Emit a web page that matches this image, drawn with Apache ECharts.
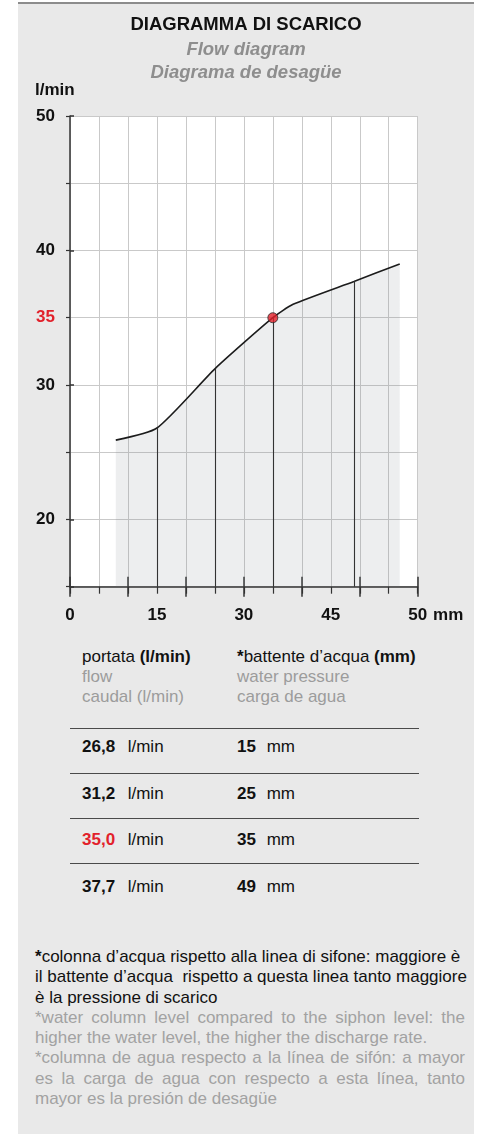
<!DOCTYPE html>
<html>
<head>
<meta charset="utf-8">
<script src="https://cdn.jsdelivr.net/npm/echarts@6/dist/echarts.min.js"></script>
<style>
  html, body { margin: 0; padding: 0; background: #fff; }
  body { width: 477px; height: 1136px; position: relative; overflow: hidden;
         font-family: 'Liberation Sans', Arial, Helvetica, sans-serif; }
  #panel { position: absolute; left: 18px; top: 2px; width: 456px; height: 1132px;
           background: #e9e9e9; border-top: 2px solid #8c8c8c; box-sizing: border-box; }
  #chart { position: absolute; left: 0; top: 0; width: 477px; height: 640px; }
  .t { position: absolute; font-size: 17px; line-height: 20px; white-space: pre; color: #111; }
  .g { color: #9c9c9c; }
  .red { color: #e2212b; }
  .rule { position: absolute; left: 70px; width: 349px; height: 0; border-top: 1px solid #4a4a4a; }
  #notes { position: absolute; left: 35px; top: 947px; width: 430px; font-size: 17px; line-height: 20.3px; color: #111; }
  #notes div { white-space: pre; }
  #notes .j { white-space: normal; text-align: justify; text-align-last: justify; }
  #notes .g { color: #a2a2a2; }
</style>
</head>
<body>
<div id="panel"></div>
<div id="chart"></div>
<div id="table"></div>
<div id="notes">
  <div><b>*</b>colonna d’acqua rispetto alla linea di sifone: maggiore è</div>
  <div>il battente d’acqua  rispetto a questa linea tanto maggiore</div>
  <div>è la pressione di scarico</div>
  <div class="g j">*water column level compared to the siphon level: the</div>
  <div class="g">higher the water level, the higher the discharge rate.</div>
  <div class="g j">*columna de agua respecto a la línea de sifón: a mayor</div>
  <div class="g j">es la carga de agua con respecto a esta línea, tanto</div>
  <div class="g">mayor es la presión de desagüe</div>
</div>
<script>
// Tabulated operating points: water level (mm) -> discharge flow (l/min)
const levelMm = [15, 25, 35, 49];
const flowLpm = [26.8, 31.2, 35.0, 37.7];
const highlightRow = 2;

// Additional points tracing the flow curve between and beyond the tabulated ones
const curveExtraMm = [7.9, 38.5, 56.9];
const curveExtraLpm = [25.9, 36.0, 39.0];

// Axis ticks and labels
const xTickValues = [0, 15, 30, 45, 60];
const xTickLabels = ['0', '15', '30', '45', '50'];
const xMajorTicks = [0, 10, 20, 30, 40, 50, 60];
const yTickValues = [20, 30, 35, 40, 50];
const yMajorTicks = [15, 20, 30, 40, 50];

const FONT = "'Liberation Sans', Arial, Helvetica, sans-serif";
const RED = '#e2212b';
const INK = '#111';
const AXIS = '#333';
const GRID = '#c9c9c9';

const curve = levelMm.map((x, i) => [x, flowLpm[i]])
  .concat(curveExtraMm.map((x, i) => [x, curveExtraLpm[i]]))
  .sort((a, b) => a[0] - b[0]);

const yMin = 15, yMax = 50;
const fmt = v => v.toFixed(1).replace('.', ',');
const boldLabel = { fontSize: 17, fontWeight: 700, fontFamily: FONT, color: INK };

const chart = echarts.init(document.getElementById('chart'), null, { renderer: 'canvas' });

// Helper axes that only contribute the longer tick marks at major values
const tickAxis = (base, tick) => Object.assign({}, base, {
  axisLine: { show: true, lineStyle: { color: 'rgba(0,0,0,0)', width: 0 } },
  axisLabel: { show: false }, splitLine: { show: false },
  axisTick: Object.assign({ show: true, lineStyle: { color: AXIS, width: 1.5 } }, tick)
});
const xBase = { type: 'value', min: 0, max: 60, interval: 5, position: 'bottom', offset: 0 };
const yBase = { type: 'value', min: yMin, max: yMax, interval: 5, position: 'left', offset: 0 };

chart.setOption({
  animation: false,
  backgroundColor: 'transparent',
  textStyle: { fontFamily: FONT },
  graphic: [
    { type: 'text', x: 246, y: 15.5, style: { text: 'DIAGRAMMA DI SCARICO', align: 'center', font: `bold 18.5px ${FONT}`, fill: INK } },
    { type: 'text', x: 246, y: 40.5, style: { text: 'Flow diagram', align: 'center', font: `italic bold 18.5px ${FONT}`, fill: '#8e8e8e' } },
    { type: 'text', x: 246, y: 63.5, style: { text: 'Diagrama de desagüe', align: 'center', font: `italic bold 18.5px ${FONT}`, fill: '#8e8e8e' } },
    { type: 'text', x: 35, y: 82, style: { text: 'l/min', font: `bold 17px ${FONT}`, fill: INK } }
  ],
  grid: { left: 70, top: 116, width: 347.7, height: 470.7, show: true, backgroundColor: '#fff', borderWidth: 0 },
  xAxis: [
    Object.assign({}, xBase, {
      name: 'mm', nameLocation: 'end', nameGap: 13,
      nameTextStyle: Object.assign({ verticalAlign: 'top', padding: [20, 0, 0, 0] }, boldLabel),
      axisLine: { lineStyle: { color: AXIS, width: 1.5 } },
      axisTick: { show: true, length: 7, lineStyle: { color: AXIS, width: 1.2 } },
      axisLabel: Object.assign({
        customValues: xTickValues, margin: 20,
        formatter: v => xTickLabels[xTickValues.indexOf(v)]
      }, boldLabel),
      splitLine: { show: true, lineStyle: { color: GRID, width: 1 } }
    }),
    tickAxis(xBase, { inside: true, length: 10, customValues: xMajorTicks }),
    tickAxis(xBase, { inside: false, length: 10, customValues: xMajorTicks })
  ],
  yAxis: [
    Object.assign({}, yBase, {
      axisLine: { show: true, lineStyle: { color: AXIS, width: 1.5 } },
      axisTick: { show: true, length: 4, lineStyle: { color: AXIS, width: 1.2 } },
      axisLabel: Object.assign({
        customValues: yTickValues, margin: 15,
        formatter: v => v === flowLpm[highlightRow] ? `{hi|${v}}` : `{n|${v}}`,
        rich: {
          hi: Object.assign({}, boldLabel, { color: RED }),
          n: Object.assign({}, boldLabel)
        }
      }, boldLabel),
      splitLine: { show: true, lineStyle: { color: GRID, width: 1 } }
    }),
    tickAxis(yBase, { inside: true, length: 4, customValues: yMajorTicks })
  ],
  series: [
    {
      type: 'line', data: curve, smooth: 0.2, symbol: 'none', z: 3,
      lineStyle: { color: '#1c1c1c', width: 1.6 },
      areaStyle: { color: 'rgba(120,126,138,0.19)', origin: 'start' },
      markLine: {
        silent: true, symbol: ['none', 'none'], label: { show: false },
        lineStyle: { color: '#333', width: 1.1, type: 'solid' },
        data: levelMm.map((x, i) => [{ coord: [x, yMin] }, { coord: [x, flowLpm[i]] }])
      }
    },
    {
      type: 'scatter', z: 5, symbolSize: 10,
      data: [[levelMm[highlightRow], flowLpm[highlightRow]]],
      itemStyle: { color: RED, borderColor: '#2a2a2a', borderWidth: 1 }
    }
  ]
});

// Data table below the chart, built from the same operating points
const table = document.getElementById('table');
const add = (html, x, cy, cls) => {
  const el = document.createElement('div');
  el.className = 't' + (cls ? ' ' + cls : '');
  el.style.left = x + 'px';
  el.style.top = (cy - 10) + 'px';
  el.innerHTML = html;
  table.appendChild(el);
};
const COL1 = 82, COL2 = 237;
add('portata <b>(l/min)</b>', COL1, 656.7);
add('flow', COL1, 676.7, 'g');
add('caudal (l/min)', COL1, 696.9, 'g');
add('<b>*</b>battente d’acqua <b>(mm)</b>', COL2, 656.7);
add('water pressure', COL2, 676.7, 'g');
add('carga de agua', COL2, 696.9, 'g');
levelMm.forEach((mm, i) => {
  const rule = document.createElement('div');
  rule.className = 'rule';
  rule.style.top = (727.5 + 45.1 * i) + 'px';
  table.appendChild(rule);
  const cy = 747.3 + 46.5 * i;
  add(`<b>${fmt(flowLpm[i])}</b>`, COL1, cy, i === highlightRow ? 'red' : '');
  add('l/min', 127.7, cy);
  add(`<b>${mm}</b>`, COL2, cy);
  add('mm', 266.7, cy);
});
</script>
</body>
</html>
